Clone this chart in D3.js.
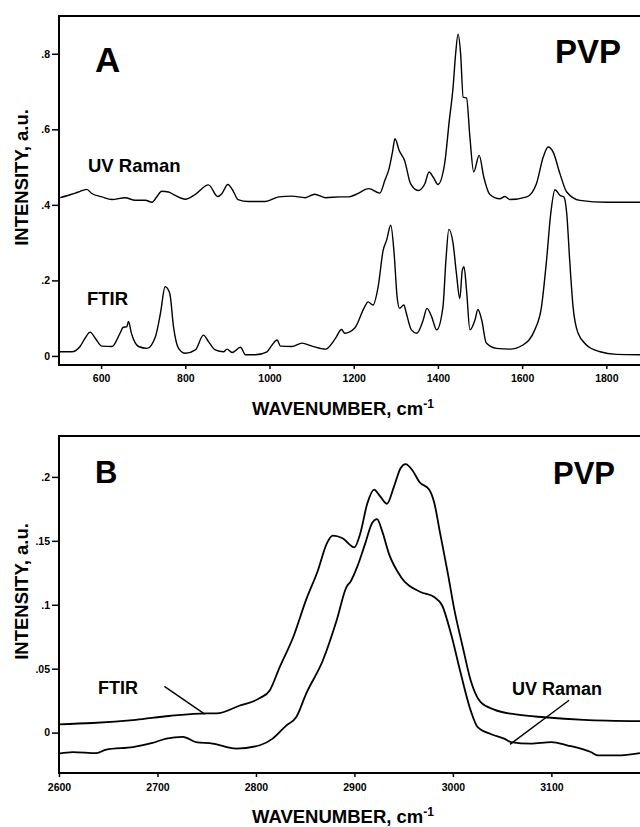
<!DOCTYPE html>
<html>
<head>
<meta charset="utf-8">
<script src="https://cdn.jsdelivr.net/npm/d3@7"></script>
<style>
  body { margin: 0; background: #fff; }
  svg text { font-family: "Liberation Sans", Arial, sans-serif; font-weight: bold; fill: #000; }
  .axis text { font-size: 10.5px; }
  .axis line { stroke: #000; stroke-width: 1.5px; }
  .axis path { display: none; }
  .frame { fill: none; stroke: #000; stroke-width: 2px; }
  .spectrum { fill: none; stroke: #000; stroke-linejoin: round; }
  .pointer { stroke: #000; stroke-width: 1.4px; }
</style>
</head>
<body>
<svg id="chart" width="640" height="827"></svg>
<script>
// ---- panel A: fingerprint region, [wavenumber, intensity] ----
const ramanA = [
  [503,0.419],[530,0.428],[546,0.434],[566,0.441],[578,0.430],[602,0.421],[626,0.414],
  [657,0.419],[681,0.412],[705,0.412],[721,0.407],[732,0.421],[744,0.436],[760,0.434],
  [776,0.425],[800,0.415],[824,0.428],[855,0.453],[877,0.422],[887,0.430],[901,0.454],
  [915,0.434],[925,0.414],[950,0.409],[990,0.409],[1022,0.421],[1053,0.423],[1085,0.419],
  [1107,0.428],[1133,0.419],[1167,0.421],[1188,0.421],[1206,0.428],[1236,0.443],[1262,0.431],
  [1274,0.465],[1284,0.496],[1292,0.539],[1298,0.575],[1308,0.544],[1321,0.517],[1335,0.456],
  [1353,0.438],[1369,0.456],[1379,0.487],[1389,0.473],[1400,0.454],[1416,0.509],[1427,0.623],
  [1436,0.711],[1442,0.799],[1448,0.852],[1454,0.799],[1460,0.685],[1468,0.683],[1476,0.579],
  [1485,0.487],[1498,0.531],[1509,0.473],[1523,0.428],[1547,0.416],[1559,0.422],[1571,0.414],
  [1611,0.421],[1634,0.456],[1650,0.526],[1662,0.553],[1674,0.539],[1690,0.482],[1706,0.434],
  [1737,0.412],[1801,0.407],[1880,0.407]
];

const ftirA = [
  [500,0.011],[530,0.011],[550,0.025],[562,0.047],[574,0.063],[586,0.047],[602,0.026],
  [626,0.025],[645,0.060],[653,0.076],[661,0.077],[665,0.091],[672,0.060],[689,0.025],
  [709,0.020],[729,0.051],[741,0.113],[752,0.183],[763,0.166],[772,0.077],[784,0.020],
  [800,0.007],[824,0.016],[843,0.055],[855,0.038],[871,0.016],[891,0.011],[899,0.018],
  [911,0.009],[931,0.023],[943,0.003],[966,0.003],[994,0.011],[1006,0.029],[1018,0.042],
  [1026,0.026],[1053,0.025],[1077,0.034],[1101,0.026],[1133,0.018],[1157,0.047],[1171,0.070],
  [1179,0.060],[1202,0.073],[1226,0.130],[1234,0.143],[1246,0.135],[1258,0.183],[1270,0.280],
  [1278,0.306],[1288,0.346],[1296,0.271],[1303,0.157],[1309,0.126],[1319,0.135],[1325,0.113],
  [1337,0.069],[1350,0.060],[1365,0.095],[1374,0.126],[1385,0.104],[1397,0.069],[1412,0.130],
  [1419,0.253],[1426,0.335],[1436,0.298],[1444,0.218],[1452,0.152],[1458,0.227],[1462,0.236],
  [1468,0.174],[1476,0.069],[1488,0.095],[1495,0.123],[1504,0.095],[1515,0.034],[1539,0.020],
  [1571,0.018],[1602,0.029],[1630,0.069],[1646,0.130],[1658,0.253],[1668,0.377],[1678,0.440],
  [1690,0.425],[1699,0.421],[1706,0.377],[1713,0.253],[1721,0.130],[1733,0.060],[1753,0.029],
  [1785,0.011],[1824,0.004],[1880,0.003]
];

// ---- panel B: C-H stretch region ----
const ftirB = [
  [2600,0.0065],[2634,0.0075],[2678,0.010],[2712,0.013],[2750,0.015],[2760,0.015],[2783,0.021],
  [2804,0.027],[2814,0.033],[2824,0.051],[2838,0.075],[2851,0.104],[2863,0.127],[2872,0.148],
  [2878,0.154],[2888,0.152],[2900,0.145],[2906,0.156],[2913,0.179],[2920,0.190],[2925,0.186],
  [2933,0.179],[2940,0.192],[2947,0.207],[2952,0.210],[2959,0.205],[2966,0.196],[2976,0.190],
  [2981,0.180],[2987,0.156],[2995,0.124],[3001,0.098],[3010,0.067],[3018,0.041],[3028,0.024],
  [3042,0.018],[3066,0.014],[3093,0.012],[3133,0.010],[3190,0.009]
];

const ramanB = [
  [2600,-0.0164],[2614,-0.0152],[2638,-0.0160],[2648,-0.0133],[2675,-0.0113],[2695,-0.0081],
  [2709,-0.0047],[2726,-0.0034],[2739,-0.0074],[2756,-0.0086],[2780,-0.0125],[2804,-0.0099],
  [2817,-0.0047],[2831,0.0057],[2841,0.0122],[2851,0.0305],[2868,0.0566],[2882,0.0879],
  [2892,0.114],[2896,0.118],[2903,0.130],[2911,0.148],[2918,0.164],[2923,0.167],[2928,0.158],
  [2935,0.140],[2947,0.122],[2967,0.110],[2981,0.106],[2989,0.0996],[2998,0.0775],[3008,0.0462],
  [3018,0.0174],[3025,0.0044],[3039,-0.0013],[3052,-0.0047],[3059,-0.0074],[3079,-0.0086],
  [3100,-0.0074],[3116,-0.0099],[3140,-0.0152],[3147,-0.0178],[3167,-0.0178],[3190,-0.0160]
];

// ticks
const xTicksA = [600, 800, 1000, 1200, 1400, 1600, 1800];
const yTicksA = [0, 0.2, 0.4, 0.6, 0.8];
const yTickLabelsA = ['0', '.2', '.4', '.6', '.8'];
const xTicksB = [2600, 2700, 2800, 2900, 3000, 3100];
const yTicksB = [0, 0.05, 0.1, 0.15, 0.2];
const yTickLabelsB = ['0', '.05', '.1', '.15', '.2'];

// pointer lines in panel B, from label to curve, in data units
const pointersB = [
  [[2707, 0.0362], [2748, 0.0144]],
  [[3118, 0.0253], [3058, -0.0092]]
];

class SpectrumPanel {

  constructor(_config) {
    this.config = {
      svg: _config.svg,
      left: _config.left,
      top: _config.top,
      width: _config.width,
      height: _config.height,
      xDomain: _config.xDomain,
      yDomain: _config.yDomain,
      xTicks: _config.xTicks,
      yTicks: _config.yTicks,
      yTickLabels: _config.yTickLabels,
      xTickPadding: _config.xTickPadding || 6,
      lineWidth: _config.lineWidth || 1.4,
      labels: _config.labels || [],
      pointers: _config.pointers || []
    };
    this.series = _config.series;
    this.initVis();
  }

  initVis() {
    let vis = this;
    let c = vis.config;

    vis.xScale = d3.scaleLinear().domain(c.xDomain).range([0, c.width]);
    vis.yScale = d3.scaleLinear().domain(c.yDomain).range([c.height, 0]);

    vis.chart = c.svg.append('g')
        .attr('transform', `translate(${c.left},${c.top})`);

    // frame: top, left and bottom (runs off the right side of the page)
    vis.chart.append('rect')
        .attr('class', 'frame')
        .attr('x', 0)
        .attr('y', 0)
        .attr('width', c.width + 20)
        .attr('height', c.height);

    vis.xAxis = d3.axisBottom(vis.xScale)
        .tickValues(c.xTicks)
        .tickFormat(d3.format('d'))
        .tickSize(4)
        .tickPadding(c.xTickPadding)
        .tickSizeOuter(0);

    vis.yAxis = d3.axisLeft(vis.yScale)
        .tickValues(c.yTicks)
        .tickFormat((d, i) => c.yTickLabels[i])
        .tickSize(7)
        .tickPadding(2)
        .tickSizeOuter(0);

    vis.chart.append('g')
        .attr('class', 'axis x-axis')
        .attr('transform', `translate(0,${c.height})`)
        .call(vis.xAxis);

    vis.chart.append('g')
        .attr('class', 'axis y-axis')
        .call(vis.yAxis);

    vis.renderVis();
  }

  renderVis() {
    let vis = this;

    let line = d3.line()
        .x(d => vis.xScale(d[0]))
        .y(d => vis.yScale(d[1]))
        .curve(d3.curveMonotoneX);

    vis.chart.selectAll('.spectrum')
        .data(vis.series)
        .join('path')
        .attr('class', 'spectrum')
        .attr('stroke-width', vis.config.lineWidth)
        .attr('d', line);

    vis.chart.selectAll('.pointer')
        .data(vis.config.pointers)
        .join('line')
        .attr('class', 'pointer')
        .attr('x1', d => vis.xScale(d[0][0]))
        .attr('y1', d => vis.yScale(d[0][1]))
        .attr('x2', d => vis.xScale(d[1][0]))
        .attr('y2', d => vis.yScale(d[1][1]));

    vis.chart.selectAll('.label')
        .data(vis.config.labels)
        .join('text')
        .attr('class', 'label')
        .attr('x', d => d.x)
        .attr('y', d => d.y)
        .style('font-size', d => d.size + 'px')
        .text(d => d.text);

    // axis titles
    vis.chart.append('text')
        .attr('transform', `translate(-31,${vis.config.height / 2 - 13}) rotate(-90)`)
        .attr('text-anchor', 'middle')
        .style('font-size', '18.5px')
        .text('INTENSITY, a.u.');

    let xt = vis.chart.append('text')
        .attr('x', 284)
        .attr('y', vis.config.height + 50)
        .attr('text-anchor', 'middle')
        .style('font-size', '18.5px');
    xt.append('tspan').text('WAVENUMBER, cm');
    xt.append('tspan')
        .attr('dy', -7)
        .style('font-size', '12px')
        .text('-1');
  }
}

const svg = d3.select('#chart');

new SpectrumPanel({
  svg: svg,
  left: 59, top: 16, width: 581, height: 349,
  xDomain: [500, 1880],
  yDomain: [-0.024, 0.9],
  xTicks: xTicksA, yTicks: yTicksA, yTickLabels: yTickLabelsA,
  series: [ramanA, ftirA],
  labels: [
    {text: 'A', x: 36, y: 56, size: 35},
    {text: 'PVP', x: 496, y: 47, size: 33},
    {text: 'UV Raman', x: 29, y: 156, size: 18.5},
    {text: 'FTIR', x: 28, y: 289, size: 18.5}
  ]
});

new SpectrumPanel({
  svg: svg,
  left: 59, top: 436, width: 581, height: 337,
  xDomain: [2600, 3190],
  yDomain: [-0.0316, 0.232],
  xTicks: xTicksB, yTicks: yTicksB, yTickLabels: yTickLabelsB,
  xTickPadding: 7,
  lineWidth: 1.8,
  series: [ftirB, ramanB],
  pointers: pointersB,
  labels: [
    {text: 'B', x: 36, y: 47, size: 31},
    {text: 'PVP', x: 494, y: 48, size: 31},
    {text: 'FTIR', x: 39, y: 258, size: 18},
    {text: 'UV Raman', x: 453, y: 259, size: 18}
  ]
});
</script>
</body>
</html>
